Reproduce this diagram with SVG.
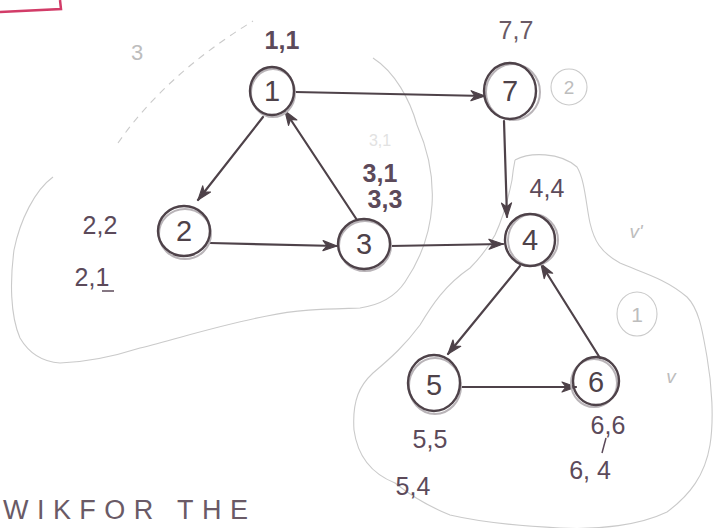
<svg xmlns="http://www.w3.org/2000/svg" width="715" height="528" viewBox="0 0 715 528">
<defs>
<marker id="ah" viewBox="0 0 16 12" refX="15" refY="6" markerWidth="16" markerHeight="12" markerUnits="userSpaceOnUse" orient="auto">
<path d="M1,1 L15,6 L1,11 L5,6 Z" fill="#4e4249" stroke="#4e4249" stroke-width="1.2" stroke-linejoin="round"/>
</marker>
<style>
.edge{fill:none;stroke:#4e4249;stroke-width:2.2;stroke-linecap:round}
.node{fill:none;stroke:#4e4249;stroke-width:2.4}
.shadow{fill:none;stroke:#b9b4b8;stroke-width:2}
.num{font-family:"Liberation Sans",Arial,sans-serif;font-size:29px;fill:#4e4249;text-anchor:middle}
.lbl{font-family:"Liberation Sans",Arial,sans-serif;font-size:25px;fill:#5c4a5a;text-anchor:middle}
.pen{fill:none;stroke:#cacaca;stroke-width:1.1}
.pentxt{font-family:"Liberation Sans",Arial,sans-serif;fill:#bdbdbd;text-anchor:middle}
</style>
</defs>
<rect width="715" height="528" fill="#ffffff"/>

<!-- red mark -->
<path d="M0,12 L61,9 L60,0" fill="none" stroke="#d23c68" stroke-width="2.5"/>

<!-- pencil contours -->
<g id="contours">
<path class="pen" d="M118,143 Q165,75 253,21" stroke-dasharray="7 6"/>
<path class="pen" d="M53,177 C35,190 20,220 14,250 C10,280 10,315 20,338 C30,355 45,362 60,363 C90,362 115,356 140,348 C180,338 220,325 267,316 C300,309 330,309 360,308 C380,305 395,297 405,282 C420,260 430,235 432,205 C434,175 428,150 417,125 C410,100 395,72 373,58"/>
<path class="pen" d="M515,160 C530,152 560,152 577,167 C585,180 586,205 590,223 C594,240 600,252 620,263 C640,272 665,278 687,297 C700,310 703,335 707,357 C712,385 714,420 710,445 C705,475 690,495 667,512 C640,525 600,530 560,528 C520,526 480,522 450,515 C430,507 410,495 395,483 C375,475 358,460 354,430 C352,400 360,385 373,373 C392,357 405,345 420,325 C432,305 445,285 470,268 C480,258 488,248 495,235 C502,220 508,200 512,180 C513,170 514,165 515,160"/>
</g>

<!-- pencil annotations -->
<g id="annotations">
<text class="pentxt" x="137" y="60" font-size="22">3</text>
<ellipse class="pen" cx="569" cy="87" rx="18" ry="18"/>
<text class="pentxt" x="569" y="94" font-size="19">2</text>
<ellipse class="pen" cx="637" cy="314" rx="20" ry="22"/>
<text class="pentxt" x="637" y="322" font-size="21">1</text>
<text class="pentxt" x="636" y="238" font-size="19" font-style="italic">v'</text>
<text class="pentxt" x="671" y="383" font-size="19" font-style="italic">v</text>
<text class="pentxt" x="380" y="146" font-size="16" style="fill:#e2e2e2">3,1</text>
</g>

<!-- connectors -->
<g id="connectors">
<line class="edge" x1="295" y1="92" x2="485" y2="96" marker-end="url(#ah)"/>
<line class="edge" x1="263" y1="117" x2="198" y2="200" marker-end="url(#ah)"/>
<line class="edge" x1="357" y1="220" x2="285" y2="111" marker-end="url(#ah)"/>
<line class="edge" x1="210" y1="243" x2="337" y2="246" marker-end="url(#ah)"/>
<line class="edge" x1="390" y1="246" x2="503" y2="244" marker-end="url(#ah)"/>
<line class="edge" x1="504" y1="121" x2="507" y2="217" marker-end="url(#ah)"/>
<line class="edge" x1="520" y1="266" x2="448" y2="354" marker-end="url(#ah)"/>
<line class="edge" x1="461" y1="387" x2="576" y2="387" marker-end="url(#ah)"/>
<line class="edge" x1="600" y1="358" x2="541" y2="264" marker-end="url(#ah)"/>
</g>

<!-- nodes -->
<g id="node1">
<ellipse class="shadow" cx="273" cy="93" rx="22" ry="24"/>
<ellipse class="node" cx="272" cy="91" rx="22" ry="24"/>
<text class="num" x="272" y="101">1</text>
</g>
<g id="node7">
<ellipse class="shadow" cx="513" cy="92" rx="27" ry="28"/>
<ellipse class="node" cx="510" cy="91" rx="26" ry="28"/>
<text class="num" x="510" y="101">7</text>
</g>
<g id="node2">
<ellipse class="shadow" cx="185" cy="234" rx="26" ry="25"/>
<ellipse class="node" cx="184" cy="231" rx="26" ry="25"/>
<text class="num" x="184" y="241">2</text>
</g>
<g id="node3">
<ellipse class="shadow" cx="365" cy="246" rx="26" ry="25"/>
<ellipse class="node" cx="364" cy="244" rx="26" ry="25"/>
<text class="num" x="364" y="254">3</text>
</g>
<g id="node4">
<ellipse class="shadow" cx="533" cy="240" rx="25" ry="26"/>
<ellipse class="node" cx="530" cy="240" rx="25" ry="26"/>
<text class="num" x="530" y="250">4</text>
</g>
<g id="node5">
<ellipse class="shadow" cx="435" cy="386" rx="26" ry="28"/>
<ellipse class="node" cx="434" cy="383" rx="26" ry="28"/>
<text class="num" x="434" y="395" font-size="33">5</text>
</g>
<g id="node6">
<ellipse class="shadow" cx="594" cy="383" rx="23" ry="24"/>
<ellipse class="node" cx="596" cy="381" rx="23" ry="24"/>
<text class="num" x="596" y="392" font-size="30">6</text>
</g>

<!-- labels -->
<g id="labels">
<text class="lbl" x="282" y="49" font-weight="bold">1,1</text>
<text class="lbl" x="516" y="39" style="fill:#6a5a66">7,7</text>
<text class="lbl" x="380" y="182" font-weight="bold">3,1</text>
<text class="lbl" x="385" y="208" font-weight="bold">3,3</text>
<text class="lbl" x="547" y="197" font-size="27">4,4</text>
<text class="lbl" x="100" y="234">2,2</text>
<text class="lbl" x="92" y="286">2,1</text>
<line x1="102" y1="291" x2="114" y2="291" stroke="#5c4a5a" stroke-width="1.5"/>
<text class="lbl" x="430" y="448">5,5</text>
<text class="lbl" x="413" y="495">5,4</text>
<text class="lbl" x="608" y="434">6,6</text>
<line x1="606" y1="438" x2="602" y2="453" stroke="#5c4a5a" stroke-width="1.5"/>
<text class="lbl" x="590" y="479">6, 4</text>
</g>

<text x="3" y="519" font-family="Liberation Sans, Arial, sans-serif" font-size="27" fill="#6a5a66" textLength="245" lengthAdjust="spacing">WIKFOR THE</text>
</svg>
